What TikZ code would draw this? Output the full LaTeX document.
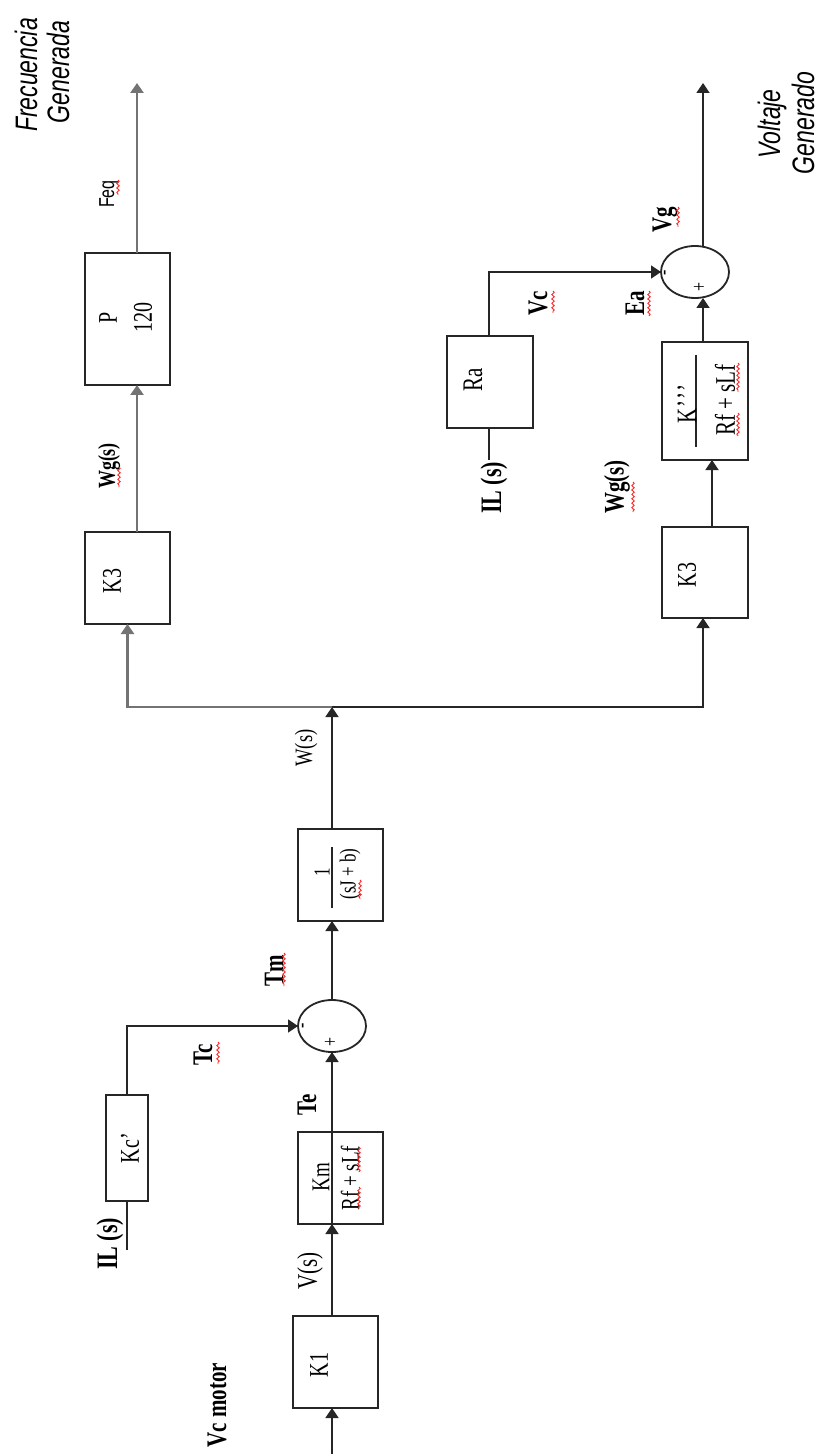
\documentclass[tikz,border=0pt]{standalone}
\usepackage{fontspec}
\usepackage{graphicx}
\setmainfont{Liberation Serif}
\setsansfont{Liberation Sans}
\usetikzlibrary{arrows.meta,shapes.geometric,decorations.pathmorphing}
\newcommand{\vsq}[1]{\scalebox{1}[1.35]{#1}}
\begin{document}
\begin{tikzpicture}[x=0.5pt,y=-0.5pt,
  blk/.style={draw=black!85, line width=0.9pt, rectangle, inner sep=0pt, outer sep=0pt},
  sumj/.style={draw=black!85, line width=0.9pt, ellipse, inner sep=0pt, outer sep=0pt, minimum width=34pt, minimum height=26pt},
  wire/.style={draw=black!85, line width=0.9pt},
  gwire/.style={draw=black!55, line width=1.3pt},
  arr/.style={-{Triangle[width=6.5pt,length=5pt]}},
  lb/.style={rotate=90, inner sep=0pt, font=\fontsize{10.5}{12}\selectfont\bfseries},
  lr/.style={rotate=90, inner sep=0pt, font=\fontsize{10}{12}\selectfont},
  ls/.style={rotate=90, inner sep=0pt, font=\fontsize{11.5}{13}\selectfont\sffamily\itshape},
  sq/.style={draw=red!85, line width=0.45pt, decorate, decoration={snake, amplitude=0.6pt, segment length=2.2pt}}
]
\useasboundingbox (0,0) rectangle (818,1454);

% blocks
\node[blk, minimum width=42.5pt, minimum height=46pt] (k1) at (335.5,1362) {};
\node[blk, minimum width=42.5pt, minimum height=46pt] (km) at (340.5,1178) {};
\node[blk, minimum width=21pt, minimum height=53pt] (kc) at (127,1148) {};
\node[sumj] (s1) at (332,1026) {};
\node[blk, minimum width=42.5pt, minimum height=46pt] (tj) at (340.5,875) {};
\node[blk, minimum width=42.5pt, minimum height=46pt] (k3a) at (127.5,578) {};
\node[blk, minimum width=42.5pt, minimum height=66pt] (pp) at (127.5,319) {};
\node[blk, minimum width=43pt, minimum height=46pt] (ra) at (490,382) {};
\node[blk, minimum width=43pt, minimum height=59pt] (kf) at (705,401) {};
\node[blk, minimum width=43pt, minimum height=45.5pt] (k3b) at (705,572.5) {};
\node[sumj] (s2) at (695,272) {};

% free ends
\coordinate (vin) at (332,1454);
\coordinate (ilA) at (127,1250);
\coordinate (bus) at (332,707);
\coordinate (outA) at (137,83);
\coordinate (outB) at (703,83);
\coordinate (ilB) at (489,460);

% connectors, lower part
\draw[wire,arr] (vin) -- (vin |- k1.south);
\draw[wire,arr] (k1.north -| vin) -- (km.south -| vin);
\draw[wire] (km.south -| vin) -- (km.north -| vin);
\draw[wire,arr] (km.north -| vin) -- (s1.south);
\draw[wire] (ilA) -- (kc.south);
\draw[wire,arr] (kc.north) |- (s1.west);
\draw[wire,arr] (s1.north) -- (tj.south -| vin);
\draw[wire] ([xshift=-4.25pt,yshift=14pt]tj.center) -- ([xshift=-4.25pt,yshift=-16.5pt]tj.center);
\draw[wire,arr] (tj.north -| vin) -- (bus);

% bus and upper branches
\draw[gwire,arr] (bus) -| (k3a.south);
\draw[wire,arr] (bus) -| ([xshift=-1pt]k3b.south);
\draw[gwire,arr] ([xshift=4.75pt]k3a.north) -- ([xshift=4.75pt]pp.south);
\draw[gwire,arr] (pp.north -| outA) -- (outA);
\draw[wire,arr] ([xshift=3.5pt]k3b.north) -- ([xshift=3.5pt]kf.south);
\draw[wire] ([xshift=-4.5pt,yshift=23pt]kf.center) -- ([xshift=-4.5pt,yshift=-23pt]kf.center);
\draw[wire,arr] (kf.north -| outB) -- (outB |- s2.south);
\draw[wire,arr] (s2.north -| outB) -- (outB);
\draw[wire] (ilB) -- (ilB |- ra.south);
\draw[wire,arr] (ra.north -| ilB) |- (s2.west);

% texts, lower part
\node[lb] (tvc) at (217,1405) {\vsq{Vc motor}};
\node[lb, font=\fontsize{11}{12}\selectfont\bfseries] (til1) at (110,1244) {\vsq{IL (s)}};
\node[lr] (tkc) at (130,1148) {\vsq{Kc’}};
\node[lr] (tk1) at (319,1365) {\vsq{K1}};
\node[lr, font=\fontsize{10.5}{12}\selectfont] (tvs) at (310,1271) {\vsq{V(s)}};
\node[lr, font=\fontsize{9.5}{11}\selectfont] (tkmn) at (321,1177) {\vsq{Km}};
\node[lr, font=\fontsize{9.5}{11}\selectfont] (tkmd) at (350,1178) {\vsq{Rf + sLf}};
\node[lb] (tte) at (307,1105) {\vsq{Te}};
\node[lb] (ttc) at (203,1055) {\vsq{Tc}};
\node[lr, font=\fontsize{8}{9}\selectfont] (tp1) at (331,1042) {\vsq{+}};
\node[lr, font=\fontsize{8}{9}\selectfont] (tm1) at (305,1026) {\vsq{-}};
\node[lb] (ttm) at (274,971) {\vsq{Tm}};
\node[lr, font=\fontsize{8.5}{10}\selectfont] (tjn) at (322,872) {\vsq{1}};
\node[lr, font=\fontsize{8.5}{10}\selectfont] (tjd) at (350,874) {\vsq{(sJ + b)}};
\node[lr, font=\fontsize{9.25}{11}\selectfont] (tws) at (306,748) {\vsq{W(s)}};

% texts, upper left
\node[lr] (tk3a) at (112,581) {\vsq{K3}};
\node[lb, font=\fontsize{9}{10}\selectfont\bfseries] (twga) at (109,466) {\vsq{Wg(s)}};
\node[lr] (tpp) at (108,318) {\vsq{P}};
\node[lr] (t120) at (143,318) {\vsq{120}};
\node[lr, font=\fontsize{8}{9}\selectfont\sffamily] (tfeq) at (109,194) {\vsq{Feq}};
\node[ls] (tfr1) at (26,75) {\vsq{Frecuencia}};
\node[ls] (tfr2) at (58,72) {\vsq{Generada}};

% texts, upper right
\node[ls] (tvo1) at (772,124) {\vsq{Voltaje}};
\node[ls] (tvo2) at (803,123) {\vsq{Generado}};
\node[lb] (tvg) at (665,220) {\vsq{Vg}};
\node[lb] (tvcc) at (538,303) {\vsq{Vc}};
\node[lb] (tea) at (635,303) {\vsq{Ea}};
\node[lr, font=\fontsize{8}{9}\selectfont] (tm2) at (667,273) {\vsq{-}};
\node[lr, font=\fontsize{8}{9}\selectfont] (tp2) at (700,287) {\vsq{+}};
\node[lr, font=\fontsize{10.5}{12}\selectfont] (tra) at (473,380) {\vsq{Ra}};
\node[lr, font=\fontsize{10.5}{12}\selectfont] (tkfn) at (687,404) {\vsq{K\kern0.2pt’\kern0.4pt’\kern0.4pt’}};
\node[lr, font=\fontsize{10.5}{12}\selectfont] (tkfd) at (725,400) {\vsq{Rf + sLf}};
\node[lr] (tk3b) at (687,575) {\vsq{K3}};
\node[lb, font=\fontsize{11}{12}\selectfont\bfseries] (tilb) at (494,488) {\vsq{IL (s)}};
\node[lb] (twgb) at (617,487) {\vsq{Wg(s)}};

% spell-check underlines
\draw[sq] (218,1042) -- (218,1064);
\draw[sq] (284,953) -- (284,986);
\draw[sq] (359,1187) -- (359,1209);
\draw[sq] (359,1147) -- (359,1172);
\draw[sq] (360,880) -- (360,899);
\draw[sq] (118,180) -- (118,195);
\draw[sq] (119,467) -- (119,487);
\draw[sq] (553,291) -- (553,313);
\draw[sq] (649,291) -- (649,316);
\draw[sq] (678,207) -- (678,227);
\draw[sq] (633,482) -- (633,512);
\draw[sq] (738,413) -- (738,436);
\draw[sq] (738,363) -- (738,392);
\end{tikzpicture}
\end{document}
